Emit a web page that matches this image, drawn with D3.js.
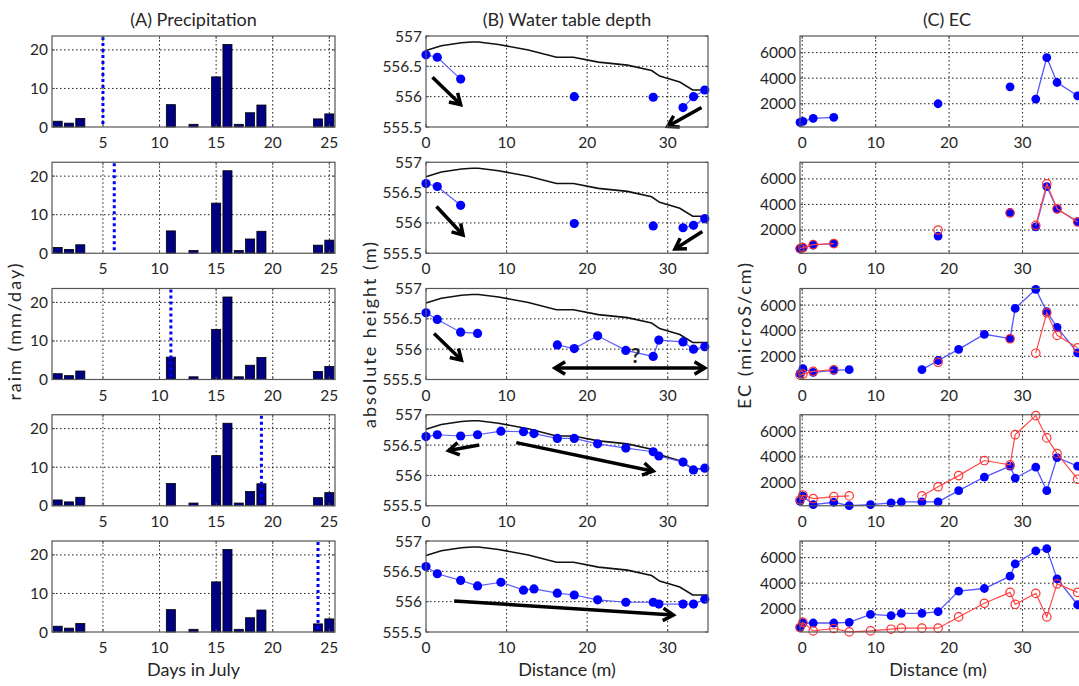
<!DOCTYPE html>
<html>
<head>
<meta charset="utf-8">
<script src="https://cdn.jsdelivr.net/npm/d3@7.9.0/dist/d3.min.js"></script>
<style>
  body { margin: 0; background: #fff; }
  svg { display: block; font-family: Lato, "Open Sans", sans-serif; }
</style>
</head>
<body>
<svg id="chart" width="1079" height="686"></svg>
<script>
// (A) precipitation, same bars in every row
const days = [1, 2, 3, 11, 13, 15, 16, 17, 18, 19, 24, 25];
const rain = [1.5, 1.0, 2.2, 5.8, 0.7, 13.0, 21.4, 0.7, 3.7, 5.7, 2.1, 3.4];
const sampleDay = [5, 6, 11, 19, 24];

// (B) ground surface and water table per sampling date
const groundX = [0, 1.9, 4.4, 5.7, 6.5, 9, 12.7, 16.2, 18.3, 21.4, 25, 28, 29, 31.5, 33.1, 35];
const groundZ = [556.76, 556.84, 556.89, 556.9, 556.9, 556.86, 556.77, 556.65, 556.65, 556.57, 556.52, 556.43, 556.34, 556.24, 556.11, 556.11];
const wellX = [0, 1.4, 4.3, 6.4, 9.3, 12.1, 13.4, 16.3, 18.4, 21.3, 24.8, 28.2, 28.9, 31.9, 33.2, 34.6];
const wt1 = [556.69, 556.65, 556.29, null, null, null, null, null, 556.0, null, null, 555.99, null, 555.82, 556.0, 556.11];
const wt2 = [556.65, 556.60, 556.29, null, null, null, null, null, 555.99, null, null, 555.95, null, 555.92, 555.96, 556.07];
const wt3 = [556.60, 556.49, 556.28, 556.26, null, null, null, 556.07, 556.01, 556.22, 555.98, 555.88, 556.15, 556.12, 556.0, 556.04];
const wt4 = [556.64, 556.67, 556.65, 556.67, 556.73, 556.72, 556.69, 556.61, 556.61, 556.52, 556.45, 556.39, 556.32, 556.22, 556.09, 556.12];
const wt5 = [556.58, 556.46, 556.35, 556.26, 556.32, 556.19, 556.21, 556.14, 556.11, 556.03, 555.99, 555.99, 555.96, 555.96, 555.96, 556.04];
const waterTables = [wt1, wt2, wt3, wt4, wt5];

// arrows drawn on the B panels: [x1, z1, x2, z2, twoHeaded]
const arrows = [
  [[0.8, 556.32, 4.3, 555.87], [34.2, 555.82, 30.0, 555.51]],
  [[1.3, 556.27, 4.6, 555.80], [34.3, 555.86, 30.9, 555.57]],
  [[1.0, 556.26, 4.4, 555.82], [16.0, 555.69, 34.6, 555.69, true]],
  [[6.6, 556.50, 2.8, 556.41], [11.2, 556.54, 28.2, 556.07]],
  [[3.5, 556.01, 30.7, 555.78]]
];

// (C) EC per sampling date; red circles show the previous date
const ecX = [-0.3, 0.1, 1.5, 4.3, 6.4, 9.3, 12.1, 13.5, 16.3, 18.5, 21.3, 24.8, 28.3, 29.0, 31.8, 33.3, 34.7, 37.5];
const ec1 = [545, 620, 857, 935, null, null, null, null, null, 2000, null, null, 3325, null, 2364, 5610, 3662, 2623];
const ec2 = [526, 605, 816, 947, null, null, null, null, null, 1526, null, null, 3368, null, 2237, 5395, 3632, 2658];
const ec3 = [641, 1026, 744, 897, 949, null, null, null, 949, 1667, 2538, 3718, 3385, 5744, 7230, 5487, 4256, 2256];
const ec4 = [533, 933, 267, 453, 187, 267, 400, 480, 480, 480, 1360, 2427, 3280, 2347, 3200, 1360, 3947, 3280];
const ec5 = [545, 883, 883, 883, 935, 1558, 1455, 1636, 1636, 1766, 3377, 3584, 4545, 5506, 6519, 6701, 4338, 2312];
const ecSeries = [ec1, ec2, ec3, ec4, ec5];

const svg = d3.select('#chart');
svg.append('rect').attr('width', 1079).attr('height', 686).attr('fill', '#fff');

const rowTop = i => 36 + i * 126.25;
const rowH = 91;
const textCol = '#262626';

const colA = { x0: 52, x1: 335 };
const colB = { x0: 426, x1: 708 };
const colC = { x0: 800, x1: 1096 };

function frame(g, x, y, xTicks, yTicks) {
  const [l, r] = x.range();
  const [b, t] = y.range();
  // dotted grid
  const grid = g.append('g').attr('stroke', '#000').attr('stroke-width', 0.9)
    .attr('stroke-dasharray', '1.5,2.5');
  xTicks.filter(v => x(v) > l + 1 && x(v) < r - 1).forEach(v => {
    grid.append('line').attr('x1', x(v)).attr('x2', x(v)).attr('y1', t).attr('y2', b);
  });
  yTicks.filter(v => y(v) < b - 1 && y(v) > t + 1).forEach(v => {
    grid.append('line').attr('y1', y(v)).attr('y2', y(v)).attr('x1', l).attr('x2', r);
  });
}

function box(g, x, y, xTicks, yTicks, fmtY) {
  const [l, r] = x.range();
  const [b, t] = y.range();
  g.append('rect').attr('x', l).attr('y', t).attr('width', r - l).attr('height', b - t)
    .attr('fill', 'none').attr('stroke', '#555').attr('stroke-width', 1.2);
  const tk = g.append('g').attr('stroke', '#555').attr('stroke-width', 1);
  xTicks.forEach(v => {
    tk.append('line').attr('x1', x(v)).attr('x2', x(v)).attr('y1', b).attr('y2', b - 3);
    tk.append('line').attr('x1', x(v)).attr('x2', x(v)).attr('y1', t).attr('y2', t + 3);
  });
  yTicks.forEach(v => {
    tk.append('line').attr('y1', y(v)).attr('y2', y(v)).attr('x1', l).attr('x2', l + 3);
    tk.append('line').attr('y1', y(v)).attr('y2', y(v)).attr('x1', r).attr('x2', r - 3);
  });
  g.append('g').selectAll('text').data(xTicks).join('text')
    .attr('x', d => x(d)).attr('y', b + 21).attr('text-anchor', 'middle')
    .attr('font-size', 15.5).attr('fill', textCol).text(d => d);
  g.append('g').selectAll('text').data(yTicks).join('text')
    .attr('x', l - 4).attr('y', d => y(d) + 5.5).attr('text-anchor', 'end')
    .attr('font-size', 15.5).attr('fill', textCol).text(fmtY);
}

function arrowHead(g, x1, y1, x2, y2) {
  const a = Math.atan2(y2 - y1, x2 - x1);
  const len = 12, spread = 0.55;
  const p = d3.path();
  p.moveTo(x2 - len * Math.cos(a - spread), y2 - len * Math.sin(a - spread));
  p.lineTo(x2, y2);
  p.lineTo(x2 - len * Math.cos(a + spread), y2 - len * Math.sin(a + spread));
  g.append('path').attr('d', p.toString()).attr('fill', 'none').attr('stroke', '#000')
    .attr('stroke-width', 3.5).attr('stroke-linejoin', 'miter').attr('stroke-linecap', 'butt');
}

const aTicksX = [5, 10, 15, 20, 25];
const aTicksY = [0, 10, 20];
const bTicksX = [0, 10, 20, 30];
const bTicksY = [555.5, 556, 556.5, 557];
const cTicksX = [0, 10, 20, 30];
const cTicksY = [2000, 4000, 6000];

for (let i = 0; i < 5; i++) {
  const top = rowTop(i), bottom = top + rowH;

  // ---- (A) precipitation ----
  const xa = d3.scaleLinear().domain([0.5, 25.5]).range([colA.x0, colA.x1]);
  const ya = d3.scaleLinear().domain([0, 23.6]).range([bottom, top]);
  const ga = svg.append('g');
  frame(ga, xa, ya, aTicksX, aTicksY);
  ga.selectAll('rect.bar').data(days).join('rect').attr('class', 'bar')
    .attr('x', d => xa(d - 0.4)).attr('width', xa(0.8) - xa(0))
    .attr('y', (d, k) => ya(rain[k])).attr('height', (d, k) => ya(0) - ya(rain[k]))
    .attr('fill', '#000080').attr('stroke', '#000').attr('stroke-width', 0.8);
  ga.append('line').attr('x1', xa(sampleDay[i])).attr('x2', xa(sampleDay[i]))
    .attr('y1', top + 1).attr('y2', bottom - 1)
    .attr('stroke', '#0000ff').attr('stroke-width', 3).attr('stroke-dasharray', '3,3');
  box(ga, xa, ya, aTicksX, aTicksY, d => d);

  // ---- (B) water table ----
  const xb = d3.scaleLinear().domain([0, 35]).range([colB.x0, colB.x1]);
  const yb = d3.scaleLinear().domain([555.5, 557]).range([bottom, top]);
  const gb = svg.append('g');
  frame(gb, xb, yb, bTicksX, bTicksY);
  gb.append('path').datum(groundX.map((x, k) => [x, groundZ[k]]))
    .attr('d', d3.line().x(d => xb(d[0])).y(d => yb(d[1])))
    .attr('fill', 'none').attr('stroke', '#111').attr('stroke-width', 1.6);
  const wt = waterTables[i].map((z, k) => [wellX[k], z]);
  gb.append('path').datum(wt)
    .attr('d', d3.line().defined(d => d[1] != null).x(d => xb(d[0])).y(d => yb(d[1])))
    .attr('fill', 'none').attr('stroke', '#5c5cff').attr('stroke-width', 1.2);
  gb.selectAll('circle').data(wt.filter(d => d[1] != null)).join('circle')
    .attr('cx', d => xb(d[0])).attr('cy', d => yb(d[1])).attr('r', 4.6).attr('fill', '#0000ff');
  arrows[i].forEach(a => {
    const [x1, y1, x2, y2] = [xb(a[0]), yb(a[1]), xb(a[2]), yb(a[3])];
    gb.append('line').attr('x1', x1).attr('y1', y1).attr('x2', x2).attr('y2', y2)
      .attr('stroke', '#000').attr('stroke-width', 3.5);
    arrowHead(gb, x1, y1, x2, y2);
    if (a[4]) arrowHead(gb, x2, y2, x1, y1);
  });
  if (i === 2) {
    gb.append('text').attr('x', xb(26)).attr('y', yb(555.89) + 7).attr('text-anchor', 'middle')
      .attr('font-size', 21).attr('font-weight', 'bold').attr('fill', '#222').text('?');
  }
  box(gb, xb, yb, bTicksX, bTicksY, d => d);

  // ---- (C) EC ----
  const xc = d3.scaleLinear().domain([-0.3, 40]).range([colC.x0, colC.x1]);
  const yc = d3.scaleLinear().domain([180, 7300]).range([bottom, top]);
  const gc = svg.append('g');
  frame(gc, xc, yc, cTicksX, cTicksY);
  const lineC = d3.line().defined(d => d[1] != null).x(d => xc(d[0])).y(d => yc(d[1]));
  const blue = ecSeries[i].map((v, k) => [ecX[k], v]);
  gc.append('path').datum(blue).attr('d', lineC)
    .attr('fill', 'none').attr('stroke', '#5555ff').attr('stroke-width', 1.3);
  gc.append('g').selectAll('circle').data(blue.filter(d => d[1] != null)).join('circle')
    .attr('cx', d => xc(d[0])).attr('cy', d => yc(d[1])).attr('r', 4.4).attr('fill', '#0000ff');
  if (i > 0) {
    const red = ecSeries[i - 1].map((v, k) => [ecX[k], v]);
    gc.append('path').datum(red).attr('d', lineC)
      .attr('fill', 'none').attr('stroke', '#ff4a4a').attr('stroke-width', 1.2);
    gc.append('g').selectAll('circle').data(red.filter(d => d[1] != null)).join('circle')
      .attr('cx', d => xc(d[0])).attr('cy', d => yc(d[1])).attr('r', 4.2)
      .attr('fill', 'none').attr('stroke', '#ff3030').attr('stroke-width', 1.2);
  }
  box(gc, xc, yc, cTicksX, cTicksY, d => d);
}

// titles and axis labels
const label = (x, y, txt, size, rot, spacing) => {
  const t = svg.append('text').attr('text-anchor', 'middle').attr('font-size', size)
    .attr('fill', textCol).text(txt);
  if (spacing) t.attr('letter-spacing', spacing);
  if (rot) t.attr('transform', `translate(${x},${y}) rotate(-90)`);
  else t.attr('x', x).attr('y', y);
};
label((colA.x0 + colA.x1) / 2, 26, '(A) Precipitation', 18);
label((colB.x0 + colB.x1) / 2, 26, '(B) Water table depth', 18);
label(947, 26, '(C) EC', 18);
label((colA.x0 + colA.x1) / 2, 676, 'Days in July', 18);
label((colB.x0 + colB.x1) / 2, 676, 'Distance (m)', 18);
label(938, 676, 'Distance (m)', 18);
label(21, 331, 'raim (mm/day)', 18, true, 2);
label(376, 334, 'absolute height (m)', 18, true, 2);
label(751, 335, 'EC (microS/cm)', 18, true, 2);
</script>
</body>
</html>
